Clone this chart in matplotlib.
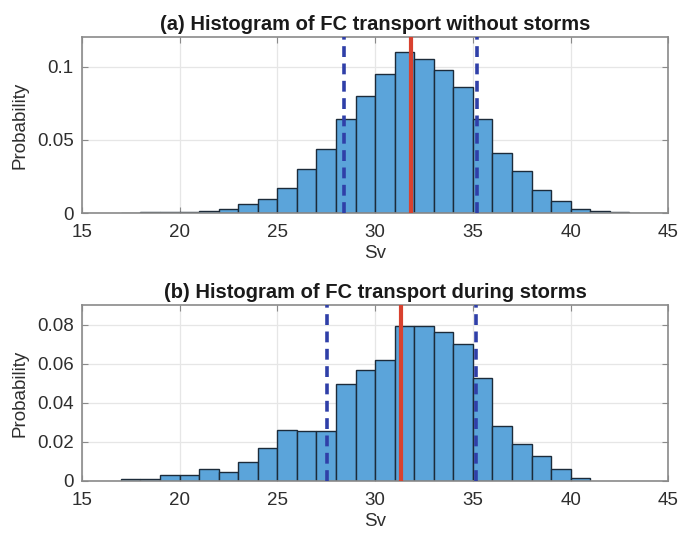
import numpy as np
import matplotlib.pyplot as plt

plt.rcParams['font.family'] = ['Liberation Sans', 'DejaVu Sans']

# 1 Sv wide bins, left edges
edges_calm = np.arange(17, 45)
prob_calm = [0.0003, 0.0005, 0.001, 0.001, 0.0015, 0.003, 0.006, 0.0095,
             0.017, 0.030, 0.044, 0.064, 0.080, 0.095, 0.110, 0.105, 0.098,
             0.086, 0.064, 0.041, 0.029, 0.016, 0.0085, 0.003, 0.0015,
             0.0008, 0.0003, 0.0002]
mean_calm = 31.82
band_calm = [28.4, 35.2]

edges_storm = np.arange(17, 41)
prob_storm = [0.0012, 0.0012, 0.0032, 0.0032, 0.0059, 0.0045, 0.0099, 0.0168,
              0.0260, 0.0254, 0.0254, 0.0494, 0.0568, 0.0618, 0.0795, 0.0795,
              0.0763, 0.0703, 0.0528, 0.0282, 0.0187, 0.0128, 0.0059, 0.0013]
mean_storm = 31.35
band_storm = [27.55, 35.15]

bar_col = '#5ba4da'
red = '#d8412f'
blue = '#2f3fa8'
frame = '#8a8a8a'
txt = '#2e2e2e'


def hist_panel(ax, edges, prob, mean, band, title, ylim, yticks, yticklabels):
    ax.bar(edges, prob, width=1.0, align='edge', color=bar_col,
           edgecolor='#1c2b3a', linewidth=1.0, zorder=2)
    for b in band:
        ax.axvline(b, color=blue, lw=2.6, ls=(0, (3, 1.8)), zorder=3)
    ax.axvline(mean, color=red, lw=3, zorder=4)
    ax.set_xlim(15, 45)
    ax.set_ylim(0, ylim)
    ax.set_xticks(np.arange(15, 46, 5))
    ax.set_yticks(yticks)
    ax.set_yticklabels(yticklabels)
    ax.grid(True, color='#e6e6e6', lw=0.9, zorder=0)
    ax.set_axisbelow(True)
    ax.tick_params(direction='in', top=True, right=True, length=4,
                   color=frame, labelsize=13.5, labelcolor=txt)
    ax.tick_params(axis='x', pad=8)
    ax.tick_params(axis='y', pad=6)
    for s in ax.spines.values():
        s.set_color(frame)
        s.set_linewidth(1.2)
    ax.set_title(title, fontsize=14.5, fontweight='bold', pad=5, color='#1a1a1a')
    ax.set_xlabel('Sv', fontsize=13.5, labelpad=3, color=txt)
    ax.set_ylabel('Probability', fontsize=13.5, labelpad=6, color=txt)


fig = plt.figure(figsize=(6.82, 5.33), dpi=100)
ax1 = fig.add_axes([0.120, 0.600, 0.860, 0.330])
ax2 = fig.add_axes([0.120, 0.0976, 0.860, 0.330])

hist_panel(ax1, edges_calm, prob_calm, mean_calm, band_calm,
           '(a) Histogram of FC transport without storms', 0.12,
           [0, 0.05, 0.1], ['0', '0.05', '0.1'])
hist_panel(ax2, edges_storm, prob_storm, mean_storm, band_storm,
           '(b) Histogram of FC transport during storms', 0.09,
           [0, 0.02, 0.04, 0.06, 0.08], ['0', '0.02', '0.04', '0.06', '0.08'])

fig.savefig('out.png', dpi=100)
